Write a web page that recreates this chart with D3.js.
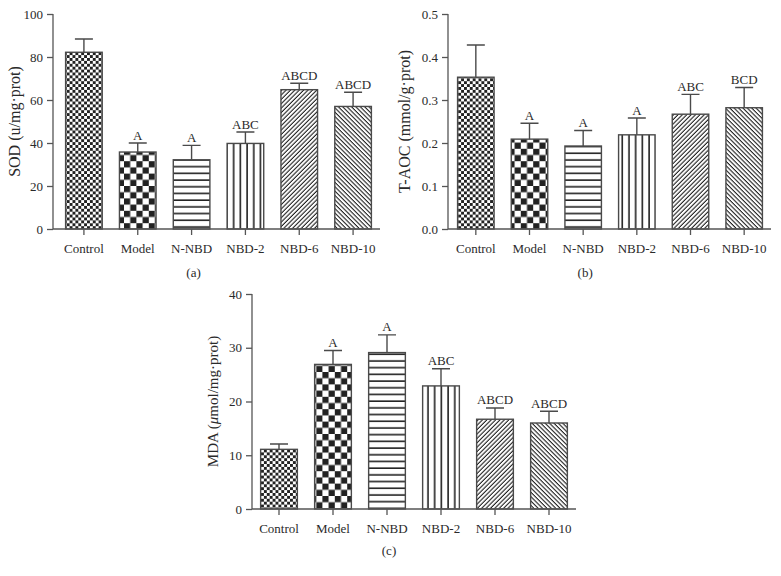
<!DOCTYPE html>
<html>
<head>
<meta charset="utf-8">
<script src="https://cdn.jsdelivr.net/npm/d3@7"></script>
<style>
  html, body { margin: 0; padding: 0; background: #fff; }
  svg { display: block; }
  svg text { font-family: "Liberation Serif", "Times New Roman", serif !important; fill: #2a2a2a; }
</style>
</head>
<body>
<svg id="chart" width="781" height="576"></svg>
<script>
// ---- data ----
const categories = ["Control", "Model", "N-NBD", "NBD-2", "NBD-6", "NBD-10"];

const sodMean = [82.2, 35.8, 32.2, 39.8, 64.8, 57.0];
const sodErr = [6.2, 4.2, 6.7, 5.3, 3.0, 6.6];
const sodLetters = ["", "A", "A", "ABC", "ABCD", "ABCD"];
const sodTicks = [0, 20, 40, 60, 80, 100];

const taocMean = [0.353, 0.209, 0.193, 0.219, 0.267, 0.282];
const taocErr = [0.075, 0.037, 0.036, 0.039, 0.046, 0.047];
const taocLetters = ["", "A", "A", "A", "ABC", "BCD"];
const taocTicks = [0, 0.1, 0.2, 0.3, 0.4, 0.5];

const mdaMean = [11.1, 26.9, 29.1, 22.9, 16.7, 16.0];
const mdaErr = [1.0, 2.6, 3.3, 3.2, 2.1, 2.2];
const mdaLetters = ["", "A", "A", "ABC", "ABCD", "ABCD"];
const mdaTicks = [0, 10, 20, 30, 40];

const svg = d3.select("#chart");
const defs = svg.append("defs");
const ink = "#222";
const serif = '"Liberation Serif", "Times New Roman", serif';

// ---- fill patterns ----
function patCheck(id, s) {
  const p = defs.append("pattern").attr("id", id).attr("patternUnits", "userSpaceOnUse")
    .attr("width", 2 * s).attr("height", 2 * s);
  p.append("rect").attr("width", 2 * s).attr("height", 2 * s).attr("fill", "#fff");
  p.append("rect").attr("width", s).attr("height", s).attr("fill", ink);
  p.append("rect").attr("x", s).attr("y", s).attr("width", s).attr("height", s).attr("fill", ink);
}
function patLines(id, spacing, lw, angle) {
  const p = defs.append("pattern").attr("id", id).attr("patternUnits", "userSpaceOnUse")
    .attr("width", spacing).attr("height", 20)
    .attr("patternTransform", `rotate(${angle})`);
  p.append("rect").attr("width", spacing).attr("height", 20).attr("fill", "#fff");
  p.append("rect").attr("x", spacing - lw).attr("width", lw).attr("height", 20).attr("fill", ink);
}
patCheck("p0", 2.9);
patCheck("p1", 6.2);
patLines("p2", 6.7, 1.6, 90);
patLines("p3", 6.7, 1.6, 0);
patLines("p4", 3.1, 1.1, 45);
patLines("p5", 3.1, 1.1, -45);
const fills = ["url(#p0)", "url(#p1)", "url(#p2)", "url(#p3)", "url(#p4)", "url(#p5)"];

// ---- panels ----
const panels = [
  { mean: sodMean, err: sodErr, letters: sodLetters, ticks: sodTicks, max: 100, fmt: d3.format("d"),
    axisX: 53, xr: [57, 380], yr: [229, 14], title: "SOD (u/mg\u00b7prot)", titleX: 14, titleSize: 16, caption: "(a)", capY: 277 },
  { mean: taocMean, err: taocErr, letters: taocLetters, ticks: taocTicks, max: 0.5, fmt: d3.format(".1f"),
    axisX: 448, xr: [449, 771], yr: [229, 14], title: "T-AOC (mmol/g\u00b7prot)", titleX: 404, titleSize: 16, caption: "(b)", capY: 277 },
  { mean: mdaMean, err: mdaErr, letters: mdaLetters, ticks: mdaTicks, max: 40, fmt: d3.format("d"),
    axisX: 252, xr: [252, 576], yr: [509, 294], title: "MDA", titleX: 213, titleSize: 15, caption: "(c)", capY: 555, mu: true }
];

panels.forEach(P => {
  const g = svg.append("g");
  const x = d3.scaleBand().domain(categories).range(P.xr).paddingInner(0.32).paddingOuter(0.16);
  const y = d3.scaleLinear().domain([0, P.max]).range(P.yr);
  const rows = categories.map((c, i) => ({ c, i, m: P.mean[i], e: P.err[i], l: P.letters[i] }));

  // bars
  g.selectAll("rect.bar").data(rows).join("rect").attr("class", "bar")
    .attr("x", d => x(d.c)).attr("width", x.bandwidth())
    .attr("y", d => y(d.m)).attr("height", d => y(0) - y(d.m))
    .attr("fill", d => fills[d.i]).attr("stroke", "#4a4a4a").attr("stroke-width", 1.4);

  // error bars
  const cw = 9;
  g.selectAll("path.err").data(rows).join("path").attr("class", "err")
    .attr("d", d => {
      const cx = x(d.c) + x.bandwidth() / 2;
      const yt = y(d.m + d.e);
      return `M${cx},${y(d.m)} V${yt} M${cx - cw},${yt} H${cx + cw}`;
    })
    .attr("fill", "none").attr("stroke", "#4a4a4a").attr("stroke-width", 1.4);

  // letters
  g.selectAll("text.lab").data(rows.filter(d => d.l)).join("text").attr("class", "lab")
    .attr("x", d => x(d.c) + x.bandwidth() / 2).attr("y", d => y(d.m + d.e) - 3.5)
    .attr("text-anchor", "middle").style("font-size", "13px").text(d => d.l);

  // y axis
  const ya = d3.axisLeft(y).tickValues(P.ticks).tickFormat(P.fmt).tickSize(6).tickPadding(4);
  const yg = g.append("g").attr("transform", `translate(${P.axisX},0)`).call(ya);
  yg.select(".domain").attr("d", `M0,${P.yr[1]}V${P.yr[0]}`);
  // x axis
  const xa = d3.axisBottom(x).tickSize(6).tickPadding(9);
  const xg = g.append("g").attr("transform", `translate(0,${P.yr[0]})`).call(xa);
  xg.select(".domain").attr("d", `M${P.axisX},0H${P.xr[1]}`);
  [yg, xg].forEach(ax => {
    ax.attr("font-family", serif).attr("font-size", 13);
    ax.selectAll("path, line").attr("stroke", "#555").attr("stroke-width", 1.3);
    ax.selectAll("text").style("font-family", serif).style("font-size", "13px").attr("fill", "#2a2a2a");
  });

  // y title
  const cy = (P.yr[0] + P.yr[1]) / 2;
  const t = g.append("text").attr("transform", `translate(${P.titleX},${cy}) rotate(-90)`)
    .attr("text-anchor", "middle").attr("dy", "0.35em").style("font-size", P.titleSize + "px");
  if (P.mu) {
    t.append("tspan").text("MDA (");
    t.append("tspan").attr("font-style", "italic").text("\u03bc");
    t.append("tspan").text("mol/mg\u00b7prot)");
  } else {
    t.text(P.title);
  }

  // caption
  g.append("text").attr("x", x(categories[2]) + x.bandwidth() / 2 + 2).attr("y", P.capY)
    .attr("text-anchor", "middle").style("font-size", "13px").text(P.caption);
});
</script>
</body>
</html>
